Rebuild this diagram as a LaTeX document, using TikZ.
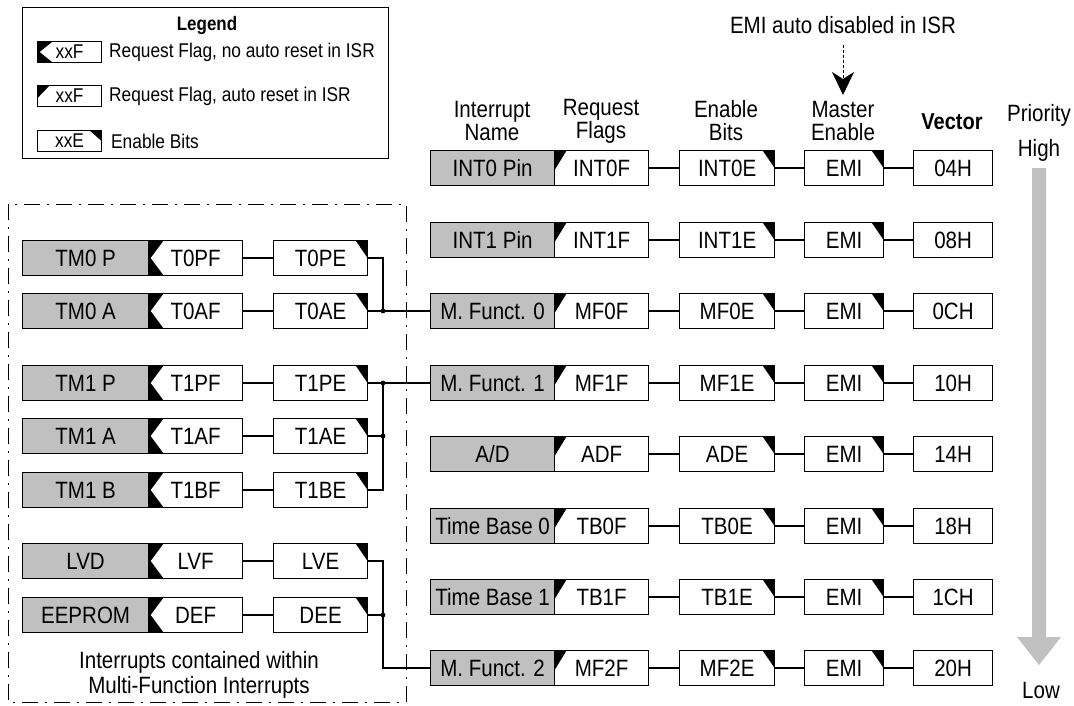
\documentclass[tikz,border=0pt]{standalone}
\usepackage{fontspec}
\setmainfont{Liberation Sans}[FakeStretch=0.87]
\usetikzlibrary{arrows.meta}
\definecolor{boxgray}{HTML}{C0C0C0}
\tikzset{
  txt/.style={font=\fontsize{23.6}{23}\selectfont, inner sep=0pt},
  smalltxt/.style={font=\fontsize{19.9}{20}\selectfont, inner sep=0pt},
  bx/.style={draw, line width=1.2pt, minimum height=35pt, minimum width=#1, anchor=west, inner sep=0pt, font=\fontsize{23.6}{23}\selectfont},
  nm/.style={bx=#1, fill=boxgray},
  flagA/.style={bx=#1, path picture={\fill (path picture bounding box.north west) -- ([xshift=12pt]path picture bounding box.north west) -- ([yshift=-2pt]path picture bounding box.west) -- cycle;}},
  flagN/.style={bx=#1, path picture={\fill (path picture bounding box.north west) -- ([xshift=15pt]path picture bounding box.north west) -- ([xshift=2pt]path picture bounding box.west) -- ([xshift=15pt]path picture bounding box.south west) -- (path picture bounding box.south west) -- cycle;}},
  enb/.style={bx=#1, path picture={\fill (path picture bounding box.north east) -- ([xshift=-12pt]path picture bounding box.north east) -- (path picture bounding box.east) -- cycle;}},
  conn/.style={line width=1.2pt},
  groupline/.style={line width=1pt, dash pattern=on 16pt off 7pt on 2pt off 7pt},
}
\begin{document}
\begin{tikzpicture}[x=1pt,y=-1pt]
\useasboundingbox (0,0) rectangle (1074,705);

% Legend
\node[draw, line width=1.2pt, minimum width=366pt, minimum height=151pt, anchor=north west, inner sep=0pt] (legendbox) at (22,7) {};
\node[font=\bfseries\fontsize{19.5}{20}\selectfont, inner sep=0pt] (legendtitle) at (207,25) {Legend};
\node[flagN=64pt, minimum height=21pt, font=\fontsize{19.9}{20}\selectfont] (lg1) at (37,52) {xxF};
\node[smalltxt, anchor=west] (lt1) at (109,52) {Request Flag, no auto reset in ISR};
\node[flagA=64pt, minimum height=21pt, font=\fontsize{19.9}{20}\selectfont] (lg2) at (37,96) {xxF};
\node[smalltxt, anchor=west] (lt2) at (109,96) {Request Flag, auto reset in ISR};
\node[enb=64pt, minimum height=21pt, font=\fontsize{19.9}{20}\selectfont] (lg3) at (37,141) {xxE};
\node[smalltxt, anchor=west] (lt3) at (111,141) {Enable Bits};

% Headers
\node[txt, align=center] (hname) at (492,121) {Interrupt\\Name};
\node[txt, align=center] (hflag) at (601,121) {Request\\Flags};
\node[txt, align=center] (hen) at (726,121) {Enable\\Bits};
\node[txt, align=center] (hme) at (843,121) {Master\\Enable};
\node[inner sep=0pt, font=\bfseries\fontsize{23}{23}\selectfont] (hvec) at (952,122) {Vector};
\node[txt] (prio) at (1039,115) {Priority};
\node[txt] (high) at (1039,150) {High};
\node[txt] (low) at (1041,690) {Low};

% EMI note
\node[txt] (emitxt) at (843,25) {EMI auto disabled in ISR};
\coordinate (emitip) at (843,95);
\draw[line width=1pt, dash pattern=on 3pt off 2pt, -{Stealth[length=23pt,width=22pt,inset=7pt]}] ([yshift=-11pt]emitxt.south) -- (emitip);

% Priority arrow
\coordinate (ptop) at (1039,168);
\coordinate (ptip) at (1039,665);
\fill[boxgray] (1032,168) -- (1046,168) -- (1046,637) -- (1061,637) -- (ptip) -- (1017,637) -- (1032,637) -- cycle;

% Main column
\foreach \y/\lab/\fl/\en/\ve/\id in {168/INT0 Pin/INT0F/INT0E/04H/r1, 240/INT1 Pin/INT1F/INT1E/08H/r2, 311/M. Funct. 0/MF0F/MF0E/0CH/r3, 383/M. Funct. 1/MF1F/MF1E/10H/r4, 454/{A/D}/ADF/ADE/14H/r5, 526/Time Base 0/TB0F/TB0E/18H/r6, 597/Time Base 1/TB1F/TB1E/1CH/r7, 668/M. Funct. 2/MF2F/MF2E/20H/r8}{
  \node[nm=124pt] (\id-n) at (430,\y) {\lab};
  \node[flagA=94pt] (\id-f) at (554,\y) {\fl};
  \node[enb=95pt] (\id-e) at (679,\y) {\en};
  \node[enb=79pt] (\id-m) at (804,\y) {EMI};
  \node[bx=79pt] (\id-v) at (913,\y) {\ve};
  \draw[conn] (\id-f.east) -- (\id-e.west);
  \draw[conn] (\id-e.east) -- (\id-m.west);
  \draw[conn] (\id-m.east) -- (\id-v.west);
}

% Group of multi-function sources
\draw[groupline] (8,204) rectangle (406,702);
\foreach \y/\lab/\fl/\en/\id in {258/TM0 P/T0PF/T0PE/a1, 311/TM0 A/T0AF/T0AE/a2, 383/TM1 P/T1PF/T1PE/b1, 436/TM1 A/T1AF/T1AE/b2, 490/TM1 B/T1BF/T1BE/b3, 561/LVD/LVF/LVE/c1, 615/EEPROM/DEF/DEE/c2}{
  \node[nm=126pt] (\id-n) at (22,\y) {\lab};
  \node[flagN=94pt] (\id-f) at (148,\y) {\fl};
  \node[enb=94pt] (\id-e) at (273,\y) {\en};
  \draw[conn] (\id-f.east) -- (\id-e.west);
}
\node[txt, align=center, font=\fontsize{23.6}{25}\selectfont] (grouptxt) at (199,675) {Interrupts contained within\\Multi-Function Interrupts};

% Bus connections
\coordinate (j1) at (383,311);
\coordinate (j2) at (383,383);
\coordinate (j3) at (383,436);
\coordinate (j4) at (383,615);
\draw[conn] (a1-e.east) -| (j1);
\draw[conn] (a2-e.east) -- (r3-n.west);
\draw[conn] (b1-e.east) -- (r4-n.west);
\draw[conn] (b2-e.east) -- (j3);
\draw[conn] (b3-e.east) -| (j2);
\draw[conn] (c1-e.east) -| (j4) |- (r8-n.west);
\draw[conn] (c2-e.east) -- (j4);
\foreach \j in {j1,j2,j3,j4}{\fill (\j) circle (2.4pt);}
\end{tikzpicture}
\end{document}
